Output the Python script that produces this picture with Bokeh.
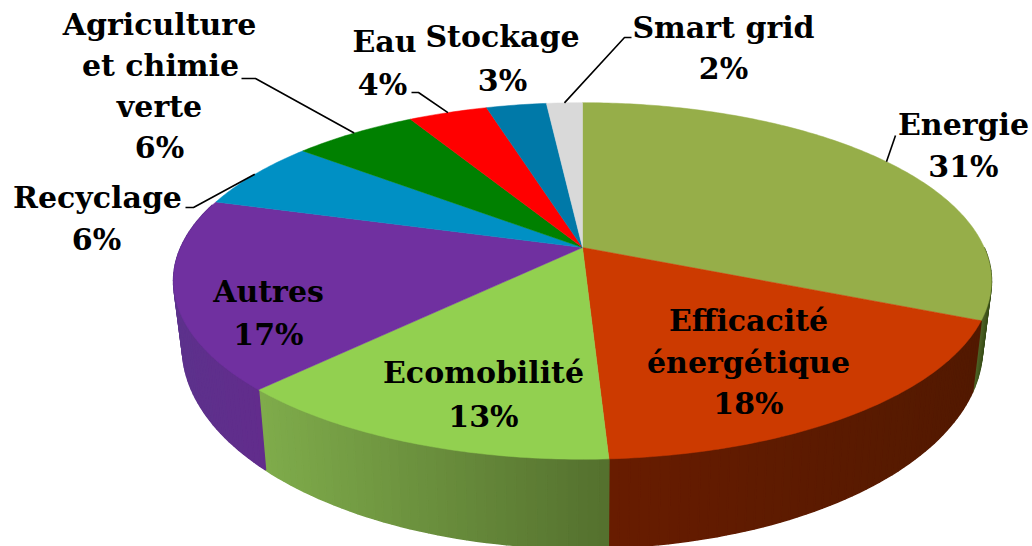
import numpy as np
from bokeh.plotting import figure
from bokeh.models import Range1d
from bokeh.core.properties import value
from bokeh.embed import file_html
from bokeh.resources import INLINE

categories = ["Energie", "Efficacité énergétique", "Ecomobilité", "Autres", "Recyclage",
              "Agriculture et chimie verte", "Eau", "Stockage", "Smart grid"]
# slice sizes (the printed labels are rounded)
shares = [31.45, 17.7, 13.15, 17.2, 6.3, 5.9, 3.75, 2.85, 1.7]
top_colors = ["#96ae49", "#cc3a00", "#92d050", "#7030a0", "#0090c4", "#008000", "#ff0000", "#0079a8", "#d9d9d9"]
wall_left = ["#4f6226", "#681c00", "#7fac4b", "#5f2f8c", "#006a90", "#005a00", "#a00000", "#005a7a", "#a0a0a0"]
wall_right = ["#465a20", "#521900", "#54702e", "#622c8c", "#006a90", "#005a00", "#a00000", "#005a7a", "#a0a0a0"]

# label layout: category index, lines with (text, x, y)
label_lines = [
    [("Energie", 963, 124), ("31%", 963, 166)],
    [("Efficacité", 748, 320), ("énergétique", 748, 362), ("18%", 748, 403)],
    [("Ecomobilité", 483, 372), ("13%", 483, 416)],
    [("Autres", 268, 291), ("17%", 268, 334)],
    [("Recyclage", 97, 197), ("6%", 96, 239)],
    [("Agriculture", 159, 24), ("et chimie", 160, 65), ("verte", 159, 106), ("6%", 159, 147)],
    [("Eau", 384, 41), ("4%", 382, 84)],
    [("Stockage", 502, 36), ("3%", 502, 80)],
    [("Smart grid", 723, 27), ("2%", 723, 68)],
]
# leader elbows after the rim point, per category index
leaders = {0: [(895, 135)],
           4: [(193, 207), (185, 207)],
           5: [(255, 78), (241, 78)],
           6: [(418, 92), (411, 92)],
           8: [(624, 37), (631, 37)]}

# projection of the disc: perspective through k
CX, K = 582.0, 0.1877
TOP = dict(a=401.7, b=172.0, y0=247.0)
BOT = dict(a=393.0, b=194.0, y0=309.0)


def project(theta_deg, d):
    t = np.radians(theta_deg)
    den = 1 + K * np.cos(t)
    return CX + d["a"] * np.sin(t) / den, d["y0"] - d["b"] * np.cos(t) / den


def mix(c1, c2, f):
    a = [int(c1[i:i + 2], 16) for i in (1, 3, 5)]
    b = [int(c2[i:i + 2], 16) for i in (1, 3, 5)]
    return "#%02x%02x%02x" % tuple(round(u + (v - u) * f) for u, v in zip(a, b))


edges = np.cumsum([0] + shares) * 360.0 / sum(shares)

p = figure(width=1032, height=546, x_range=Range1d(0, 1032), y_range=Range1d(546, 0),
           output_backend="svg", toolbar_location=None, min_border=0)
p.axis.visible = False
p.grid.visible = False
p.outline_line_color = None

# side wall, as thin quads, with a horizontal shade inside each slice
wx, wy, wc = [], [], []
for i in range(len(shares)):
    lo, hi = max(edges[i], 90.0), min(edges[i + 1], 285.0)
    if hi <= lo:
        continue
    ts = np.linspace(lo, hi, max(2, int((hi - lo) / 1.2) + 1))
    x_a, x_b = project(lo, BOT)[0], project(hi, BOT)[0]
    for t0, t1 in zip(ts[:-1], ts[1:]):
        x0, y0 = project(t0, TOP)
        x1, y1 = project(t1, TOP)
        x2, y2 = project(t1, BOT)
        x3, y3 = project(t0, BOT)
        xs_min, xs_max = min(x_a, x_b), max(x_a, x_b)
        f = (0.5 * (x2 + x3) - xs_min) / max(xs_max - xs_min, 1)
        wx.append([x0, x1, x2, x3])
        wy.append([y0, y1, y2, y3])
        wc.append(mix(wall_left[i], wall_right[i], f))
p.patches(wx, wy, fill_color=wc, line_color=wc, line_width=1.5)

# top face
fx, fy = [], []
for i in range(len(shares)):
    ts = np.linspace(edges[i], edges[i + 1], max(4, int(shares[i] * 5)))
    x, y = project(ts, TOP)
    fx.append([CX] + list(x))
    fy.append([TOP["y0"]] + list(y))
p.patches(fx, fy, fill_color=top_colors, line_color=top_colors, line_width=0.5)

# leader lines start on the rim at the middle of the slice
for i, elbows in leaders.items():
    sx, sy = project(0.5 * (edges[i] + edges[i + 1]), TOP)
    p.line([float(sx)] + [e[0] for e in elbows], [float(sy)] + [e[1] for e in elbows],
           line_color="#000000", line_width=1.6)

tx, ty, tt = [], [], []
for lines in label_lines:
    for s, x, y in lines:
        tx.append(x)
        ty.append(y)
        tt.append(s)
p.text(tx, ty, text=tt, text_font=value("DejaVu Serif"), text_font_style="bold",
       text_font_size="30px", text_align="center", text_baseline="middle", text_color="#000000")

open("out.html", "w").write(file_html(p, INLINE))
